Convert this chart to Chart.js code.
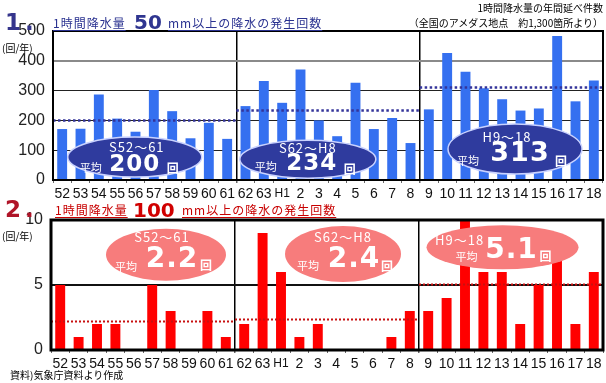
<!DOCTYPE html>
<html><head><meta charset="utf-8">
<script src="https://cdn.jsdelivr.net/npm/chart.js@4.4.0/dist/chart.umd.min.js"></script>
<style>
body{margin:0;background:#fff;width:606px;height:383px;overflow:hidden;position:relative;font-family:'Noto Sans CJK JP',sans-serif;}
.abs{position:absolute;white-space:nowrap;line-height:1;}
.sm{font-size:12px;letter-spacing:1px;text-decoration:underline;text-underline-offset:2px;}
.big{font:bold 20px 'DejaVu Sans',sans-serif;}
.num{font:bold 23px 'DejaVu Sans',sans-serif;letter-spacing:4px;}
.note{font-size:10px;color:#000;}
canvas{position:absolute;left:0;}
#c1{top:0;}
#c2{top:195px;}
</style></head><body>
<canvas id="c1" width="606" height="200" style="width:606px;height:200px"></canvas>
<canvas id="c2" width="606" height="175" style="width:606px;height:175px"></canvas>

<div class="abs num" style="left:5px;top:9px;color:#35358c">1.</div>
<div class="abs sm" style="left:53px;top:17px;color:#2a3290">1時間降水量</div>
<div class="abs big" style="left:134px;top:10px;color:#2f3590">50</div>
<div class="abs sm" style="left:168px;top:17px;color:#2a3290">mm以上の降水の発生回数</div>
<div class="abs note" style="right:3px;top:3px">1時間降水量の年間延べ件数</div>
<div class="abs note" style="right:3px;top:18px">（全国のアメダス地点　約1,300箇所より）</div>
<div class="abs note" style="left:2px;top:43px">(回/年)</div>

<div class="abs num" style="left:5px;top:196px;color:#b01428">2.</div>
<div class="abs sm" style="left:55px;top:204px;color:#c80000">1時間降水量</div>
<div class="abs big" style="left:133px;top:198px;color:#d00000">100</div>
<div class="abs sm" style="left:182px;top:204px;color:#c80000">mm以上の降水の発生回数</div>
<div class="abs note" style="left:2px;top:231px">(回/年)</div>
<div class="abs note" style="left:10px;top:370px">資料)気象庁資料より作成</div>

<script>
// ---- data ----
const years = ['52','53','54','55','56','57','58','59','60','61','62','63','H1','2','3','4','5','6','7','8','9','10','11','12','13','14','15','16','17','18'];
const count50 = [171,172,287,206,162,302,231,140,192,138, 248,332,259,371,200,147,326,171,208,124, 237,426,363,308,271,233,240,483,264,334];
const count100 = [5,1,2,2,0,5,3,0,3,1, 2,9,6,1,2,0,0,0,1,3, 3,4,10,6,6,2,5,7,2,6];
const periods = ['S52～61','S62～H8','H9～18'];
const avg50 = [200,234,313];
const avg100 = [2.2,2.4,5.1];
const yTicks50 = [0,100,200,300,400,500];
const yTicks100 = [0,5,10];

// ---- layout / style of callouts ----
const bubbles50 = [
  {x:3.96,y:77,rx:67,ry:20,label:[2,-10],hei:[-44,11],val:[0,8],kai:[38,11],font:'bold 23px "DejaVu Sans"'},
  {x:13.4,y:70,rx:68,ry:19,label:[0,-11],hei:[-42,8],val:[4,5],kai:[42,10],font:'bold 23px "DejaVu Sans"'},
  {x:24.7,y:104,rx:67,ry:25,label:[-8,-12],hei:[-47,12],val:[5,5],kai:[46,12],font:'bold 27px "DejaVu Sans"'}
];
const bubbles100 = [
  {x:5.75,y:7.33,rx:60,ry:26,label:[-4,-18],hei:[-40,12],val:[6,5],kai:[40,11],font:'bold 28px "DejaVu Sans"'},
  {x:15.37,y:7.38,rx:58,ry:28,label:[0,-17],hei:[-35,12],val:[11,6],kai:[44,12],font:'bold 28px "DejaVu Sans"'},
  {x:24.04,y:7.9,rx:76,ry:22,label:[-43,-7],hei:[-36,10],val:[9,3],kai:[43,9],font:'bold 28px "DejaVu Sans"'}
];

function overlay(id, o){
  return {id:'ov'+id, afterDatasetsDraw(chart){
    const {ctx, chartArea:a, scales:{x,y}} = chart;
    ctx.save();
    o.avgs.forEach((v,i)=>{
      const x0 = x.getPixelForValue(i*10-0.5), x1 = x.getPixelForValue(i*10+9.5);
      const yy = Math.round(y.getPixelForValue(v))+0.5;
      ctx.beginPath(); ctx.setLineDash(o.dash); ctx.strokeStyle=o.avgColor; ctx.lineWidth=o.avgWidth;
      ctx.moveTo(x0,yy); ctx.lineTo(x1,yy); ctx.stroke();
    });
    ctx.setLineDash([]);
    ctx.strokeStyle='#000'; ctx.lineWidth=o.frame;
    ctx.strokeRect(a.left,a.top,a.right-a.left,a.bottom-a.top);
    o.bubbles.forEach((b,i)=>{
      const cx = x.getPixelForValue(b.x), cy = y.getPixelForValue(b.y);
      ctx.beginPath(); ctx.ellipse(cx,cy,b.rx,b.ry,0,0,Math.PI*2);
      ctx.fillStyle=o.fill; ctx.fill();
      if(o.stroke){ctx.strokeStyle=o.stroke; ctx.lineWidth=1.5; ctx.stroke();}
      ctx.fillStyle='#fff'; ctx.textAlign='center'; ctx.textBaseline='middle';
      ctx.letterSpacing='1px';
      ctx.font='13px "Noto Sans CJK JP"'; ctx.fillText(periods[i], cx+b.label[0], cy+b.label[1]);
      ctx.letterSpacing='0px';
      ctx.font='11px "Noto Sans CJK JP"'; ctx.fillText('平均', cx+b.hei[0], cy+b.hei[1]);
      ctx.letterSpacing='1px';
      ctx.font=b.font; ctx.fillText(o.fmt(o.avgs[i]), cx+b.val[0], cy+b.val[1]);
      ctx.letterSpacing='0px';
      ctx.font='bold 12px "Noto Sans CJK JP"'; ctx.fillText('回', cx+b.kai[0], cy+b.kai[1]);
    });
    ctx.restore();
  }};
}

function makeChart(el, data, color, yMax, yTicks, pad, yWidth, gridColorFn, gridWidthFn, ov){
  return new Chart(document.getElementById(el), {
    type:'bar',
    data:{labels:years, datasets:[{data, backgroundColor:color, borderWidth:0, barPercentage:0.54, categoryPercentage:1}]},
    options:{
      responsive:false, animation:false, devicePixelRatio:1,
      layout:{padding:pad},
      plugins:{legend:{display:false}, title:{display:false}, tooltip:{enabled:false}},
      scales:{
        x:{offset:true,
           grid:{offset:true, drawOnChartArea:true, tickLength:3,
                 color:c=>(c.index===10||c.index===20)?'#000':'rgba(0,0,0,0)',
                 lineWidth:c=>(c.index===10||c.index===20)?1.5:1,
                 tickColor:'#666'},
           border:{display:false},
           ticks:{autoSkip:false, maxRotation:0, padding:3, color:'#111',
                  font:c=>({family:'"Liberation Sans", Arial, sans-serif', size:(years[c.index]==='H1')?12:14})},
           afterFit:s=>{s.height=20;}},
        y:{min:0,max:yMax,
           afterBuildTicks:s=>{s.ticks=yTicks.map(v=>({value:v}));},
           grid:{drawTicks:false, color:gridColorFn, lineWidth:gridWidthFn},
           border:{display:false},
           ticks:{padding:8, color:'#222', font:{family:'"Liberation Sans", Arial, sans-serif', size:16}},
           afterFit:s=>{s.width=yWidth;}}
      }
    },
    plugins:[ov]
  });
}

makeChart('c1', count50, '#3570f0', 500, yTicks50, {top:31,right:3,left:0,bottom:0}, 53,
  c=>{const v=c.tick&&c.tick.value; return (v===0||v===500)?'rgba(0,0,0,0)':(v===400?'#8a8a8a':'#222');},
  c=>{const v=c.tick&&c.tick.value; return v===400?2:1;},
  overlay(1,{avgs:avg50, dash:[2.5,2.5], avgColor:'#34349a', avgWidth:2.5, frame:2, bubbles:bubbles50,
    fill:'#2f3b9e', stroke:'#c9d2ff', fmt:v=>String(v)}));

makeChart('c2', count100, '#ff0000', 10, yTicks100, {top:25,right:3,left:0,bottom:0}, 51,
  c=>{const v=c.tick&&c.tick.value; return v===5?'#111':'rgba(0,0,0,0)';},
  c=>2,
  overlay(2,{avgs:avg100, dash:[2,2], avgColor:'#c81010', avgWidth:2, frame:3, bubbles:bubbles100,
    fill:'#f77c7c', stroke:null, fmt:v=>v.toFixed(1)}));
</script>
</body></html>
